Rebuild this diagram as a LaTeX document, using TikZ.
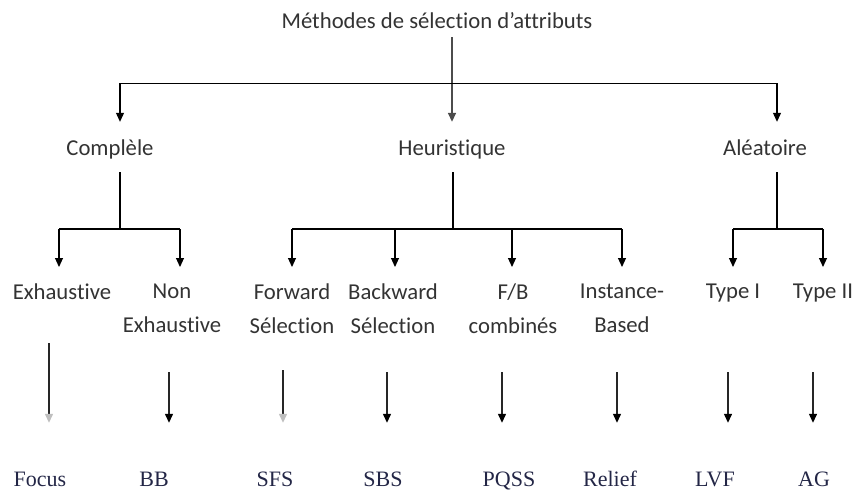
\documentclass[tikz,border=0pt]{standalone}
\usepackage{fontspec}
\setmainfont{Carlito}[Ligatures={NoCommon}]
\newfontfamily\leaffont{Liberation Serif}
\usetikzlibrary{arrows.meta, positioning, calc}

\definecolor{leafblue}{RGB}{35,38,70}

\begin{document}
\begin{tikzpicture}[x=1pt, y=-1pt,
  every node/.style={inner sep=0pt, text=black!80},
  head/.style={font=\fontsize{22.7}{34}\selectfont, text height=16pt, text depth=5pt, anchor=base},
  mid/.style={font=\fontsize{22.7}{34}\selectfont, align=center, anchor=north},
  leaf/.style={font=\leaffont\fontsize{22}{26}\selectfont, text=leafblue, text height=15pt, text depth=1pt, anchor=base},
  arr/.style={-{Triangle[length=9pt,width=8pt]}, line width=1.1pt, shorten >=17pt},
  low/.style={-{Triangle[length=9pt,width=8pt,color=#1]}, line width=1.3pt, black!85, shorten >=48pt}]
\useasboundingbox (0,0) rectangle (854,490);

%// root and first level
\node [head] (root) at (437,28) {Méthodes de sélection d’attributs};
\node [head] (comp) at (110,155) {Complèle};
\node [head] (heur) at (452,155) {Heuristique};
\node [head] (alea) at (765,155) {Aléatoire};

\coordinate (top) at (0,83);
\coordinate (lowbar) at (0,229);

\draw[arr, line width=1.6pt, black!70, shorten <=4pt] (heur |- root.south) -- (heur.north);
\draw[line width=0.9pt] ([xshift=10pt]comp.north |- top) -- ([xshift=12pt]alea.north |- top);
\draw[arr] ([xshift=10pt]comp.north |- top) -- ([xshift=10pt]comp.north);
\draw[arr] ([xshift=12pt]alea.north |- top) -- ([xshift=12pt]alea.north);

%// down to the bars
\foreach \n/\dx in {comp/10, heur/1, alea/12}
\draw[line width=1.1pt, shorten <=12pt] ([xshift=\dx pt]\n.south) -- ([xshift=\dx pt]\n.south |- lowbar);

%// second level
\foreach \n/\x/\txt/\dx in {exh/62/Exhaustive/-3, nonexh/172/{Non\\Exhaustive}/8,
  fwd/292/{Forward\\Sélection}/0, bwd/393/{Backward\\Sélection}/2,
  fb/513/{F/B\\combinés}/-1, inst/622/{Instance-\\Based}/0,
  ty1/733/Type I/0, ty2/823/Type II/0}
{
\node [mid] (\n) at (\x,284) {\txt};
\draw[arr] ([xshift=\dx pt]\n.north |- lowbar) -- ([xshift=\dx pt]\n.north);
}

\draw[line width=1.1pt] ([xshift=-3pt]exh.north |- lowbar) -- ([xshift=8pt]nonexh.north |- lowbar);
\draw[line width=1.1pt] (fwd.north |- lowbar) -- (inst.north |- lowbar);
\draw[line width=2pt] (ty1.north |- lowbar) -- (ty2.north |- lowbar);

%// leaves
\foreach \m/\x/\txt/\ax/\ay/\hc in {focus/40/Focus/49/343/black!25, bb/154/BB/169/372/black,
  sfs/275/SFS/283/370/black!25, sbs/383/SBS/387/372/black, pqss/509/PQSS/502/372/black,
  relief/610/Relief/617/372/black, lvf/715/LVF/728/372/black, ag/814/AG/813/372/black}
{
\node [leaf] (\m) at (\x,486) {\txt};
\coordinate (\m s) at (\ax,\ay);
\draw[low=\hc] (\m s) -- (\m s |- \m.north);
}
\end{tikzpicture}
\end{document}
